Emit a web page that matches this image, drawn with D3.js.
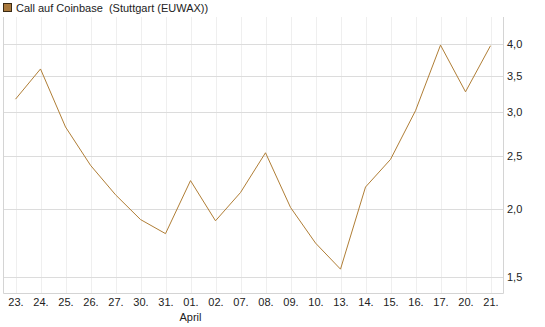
<!DOCTYPE html>
<html>
<head>
<meta charset="utf-8">
<script src="https://cdn.jsdelivr.net/npm/d3@7"></script>
<style>
  body { margin: 0; background: #fff; }
  text { font-family: "Liberation Sans", Arial, sans-serif; }
</style>
</head>
<body>
<div id="chart"></div>
<script>
// data
labels = ["23.", "24.", "25.", "26.", "27.", "30.", "31.", "01.", "02.", "07.",
          "08.", "09.", "10.", "13.", "14.", "15.", "16.", "17.", "20.", "21."]
values = [3.17, 3.60, 2.82, 2.40, 2.12, 1.91, 1.80, 2.25, 1.90, 2.14,
          2.53, 2.01, 1.73, 1.55, 2.19, 2.46, 3.02, 3.98, 3.27, 3.97]
yTicks = [1.5, 2.0, 2.5, 3.0, 3.5, 4.0]
monthLabel = {index: 7, text: "April"}
title = "Call auf Coinbase  (Stuttgart (EUWAX))"

// dimensions
width = 545
height = 327
margin = ({top: 17, bottom: 34, left: 3, right: 42})

svg = d3.select("#chart").append("svg")
    .attr("width", width)
    .attr("height", height)

x = d3.scalePoint()
    .domain(d3.range(labels.length))
    .range([margin.left, width - margin.right])
    .padding(0.5)

y = d3.scaleLog()
    .domain([1.402, 4.48])
    .range([height - margin.bottom, margin.top])

// vertical grid
svg.append("g")
    .selectAll("line")
    .data(d3.range(labels.length))
    .join("line")
    .attr("x1", d => Math.round(x(d)) + 0.5)
    .attr("x2", d => Math.round(x(d)) + 0.5)
    .attr("y1", margin.top)
    .attr("y2", height - margin.bottom)
    .attr("stroke", "#efefef")

// horizontal grid
svg.append("g")
    .selectAll("line")
    .data(yTicks)
    .join("line")
    .attr("x1", margin.left)
    .attr("x2", width - margin.right)
    .attr("y1", d => Math.round(y(d)) + 0.5)
    .attr("y2", d => Math.round(y(d)) + 0.5)
    .attr("stroke", "#dcdcdc")

// frame (left, bottom, right)
svg.append("path")
    .attr("d", `M${margin.left + 0.5},${margin.top}V${height - margin.bottom + 0.5}H${width - margin.right + 0.5}V${margin.top}`)
    .attr("fill", "none")
    .attr("stroke", "#d4d4d4")

// y axis on the right
yaxis = d3.axisRight(y)
    .tickValues(yTicks)
    .tickSize(0)
    .tickPadding(4)
    .tickFormat(d => d3.format(".1f")(d).replace(".", ","))

svg.append("g")
    .attr("transform", `translate(${width - margin.right}, 0)`)
    .call(yaxis)
    .call(g => g.select(".domain").remove())
    .call(g => g.selectAll("text")
        .attr("fill", "#222")
        .style("font-size", "11px")
        .style("font-family", "Liberation Sans, Arial, sans-serif"))

// x axis labels
xaxis = d3.axisBottom(x)
    .tickSize(0)
    .tickPadding(5)
    .tickFormat(i => labels[i])

svg.append("g")
    .attr("transform", `translate(0, ${height - margin.bottom})`)
    .call(xaxis)
    .call(g => g.select(".domain").remove())
    .call(g => g.selectAll("text")
        .attr("fill", "#222")
        .style("font-size", "11px")
        .style("font-family", "Liberation Sans, Arial, sans-serif"))

svg.append("text")
    .attr("x", x(monthLabel.index))
    .attr("y", height - margin.bottom + 28)
    .attr("text-anchor", "middle")
    .attr("fill", "#222")
    .style("font-size", "11px")
    .text(monthLabel.text)

// line
line = d3.line()
    .x((d, i) => x(i))
    .y(d => y(d))

svg.append("path")
    .datum(values)
    .attr("d", line)
    .attr("fill", "none")
    .attr("stroke", "#b07e36")
    .attr("stroke-width", 1)

// legend
svg.append("rect")
    .attr("x", 3.5)
    .attr("y", 3.5)
    .attr("width", 8)
    .attr("height", 8)
    .attr("fill", "#a8783c")
    .attr("stroke", "#3a2a14")

svg.append("text")
    .attr("x", 16)
    .attr("y", 12)
    .attr("fill", "#222")
    .style("font-size", "11px")
    .style("white-space", "pre")
    .attr("xml:space", "preserve")
    .text(title)
</script>
</body>
</html>
